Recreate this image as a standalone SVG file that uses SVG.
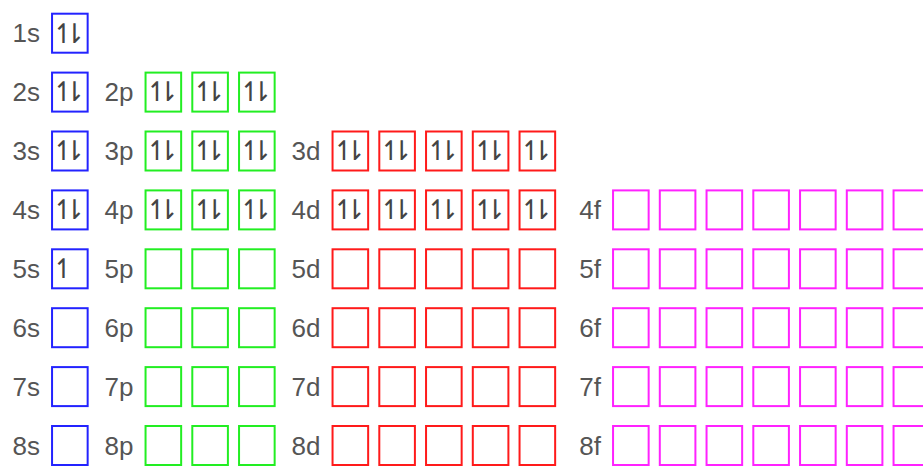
<svg xmlns="http://www.w3.org/2000/svg" width="923" height="470" viewBox="0 0 923 470">
<style>
rect.b{fill:none;stroke-width:2}
.s rect{stroke:#2323ff}
.p rect{stroke:#22ee22}
.d rect{stroke:#ff1a1a}
.f rect{stroke:#ff22ff}
text.l{font-family:"Liberation Sans",Arial,sans-serif;font-size:26px;fill:#555;text-anchor:end}
text.e{font-family:"DejaVu Sans",sans-serif;font-size:27px;fill:#444;text-anchor:middle}
</style>
<rect width="923" height="470" fill="#fff"/>
<!-- row 1 -->
<g id="o1s" class="s"><text class="l" x="40" y="42.3">1s</text><rect class="b" x="52.05" y="13.7" width="35.6" height="39"/><text class="e" x="63.5 74.5" y="42.5">↿⇂</text></g>
<!-- row 2 -->
<g id="o2s" class="s"><text class="l" x="40" y="101.2">2s</text><rect class="b" x="52.05" y="72.6" width="35.6" height="39"/><text class="e" x="63.5 74.5" y="101.4">↿⇂</text></g>
<g id="o2p" class="p"><text class="l" x="133.5" y="101.2">2p</text>
<rect class="b" x="145.55" y="72.6" width="35.6" height="39"/><rect class="b" x="192.3" y="72.6" width="35.6" height="39"/><rect class="b" x="239.05" y="72.6" width="35.6" height="39"/>
<text class="e" x="157 168" y="101.4">↿⇂</text><text class="e" x="203.75 214.75" y="101.4">↿⇂</text><text class="e" x="250.5 261.5" y="101.4">↿⇂</text></g>
<!-- row 3 -->
<g id="o3s" class="s"><text class="l" x="40" y="160.1">3s</text><rect class="b" x="52.05" y="131.5" width="35.6" height="39"/><text class="e" x="63.5 74.5" y="160.3">↿⇂</text></g>
<g id="o3p" class="p"><text class="l" x="133.5" y="160.1">3p</text>
<rect class="b" x="145.55" y="131.5" width="35.6" height="39"/><rect class="b" x="192.3" y="131.5" width="35.6" height="39"/><rect class="b" x="239.05" y="131.5" width="35.6" height="39"/>
<text class="e" x="157 168" y="160.3">↿⇂</text><text class="e" x="203.75 214.75" y="160.3">↿⇂</text><text class="e" x="250.5 261.5" y="160.3">↿⇂</text></g>
<g id="o3d" class="d"><text class="l" x="320.5" y="160.1">3d</text>
<rect class="b" x="332.55" y="131.5" width="35.6" height="39"/><rect class="b" x="379.3" y="131.5" width="35.6" height="39"/><rect class="b" x="426.05" y="131.5" width="35.6" height="39"/><rect class="b" x="472.8" y="131.5" width="35.6" height="39"/><rect class="b" x="519.55" y="131.5" width="35.6" height="39"/>
<text class="e" x="344 355" y="160.3">↿⇂</text><text class="e" x="390.75 401.75" y="160.3">↿⇂</text><text class="e" x="437.5 448.5" y="160.3">↿⇂</text><text class="e" x="484.25 495.25" y="160.3">↿⇂</text><text class="e" x="531 542" y="160.3">↿⇂</text></g>
<!-- row 4 -->
<g id="o4s" class="s"><text class="l" x="40" y="219">4s</text><rect class="b" x="52.05" y="190.4" width="35.6" height="39"/><text class="e" x="63.5 74.5" y="219.2">↿⇂</text></g>
<g id="o4p" class="p"><text class="l" x="133.5" y="219">4p</text>
<rect class="b" x="145.55" y="190.4" width="35.6" height="39"/><rect class="b" x="192.3" y="190.4" width="35.6" height="39"/><rect class="b" x="239.05" y="190.4" width="35.6" height="39"/>
<text class="e" x="157 168" y="219.2">↿⇂</text><text class="e" x="203.75 214.75" y="219.2">↿⇂</text><text class="e" x="250.5 261.5" y="219.2">↿⇂</text></g>
<g id="o4d" class="d"><text class="l" x="320.5" y="219">4d</text>
<rect class="b" x="332.55" y="190.4" width="35.6" height="39"/><rect class="b" x="379.3" y="190.4" width="35.6" height="39"/><rect class="b" x="426.05" y="190.4" width="35.6" height="39"/><rect class="b" x="472.8" y="190.4" width="35.6" height="39"/><rect class="b" x="519.55" y="190.4" width="35.6" height="39"/>
<text class="e" x="344 355" y="219.2">↿⇂</text><text class="e" x="390.75 401.75" y="219.2">↿⇂</text><text class="e" x="437.5 448.5" y="219.2">↿⇂</text><text class="e" x="484.25 495.25" y="219.2">↿⇂</text><text class="e" x="531 542" y="219.2">↿⇂</text></g>
<g id="o4f" class="f"><text class="l" x="601" y="219">4f</text>
<rect class="b" x="613.05" y="190.4" width="35.6" height="39"/><rect class="b" x="659.8" y="190.4" width="35.6" height="39"/><rect class="b" x="706.55" y="190.4" width="35.6" height="39"/><rect class="b" x="753.3" y="190.4" width="35.6" height="39"/><rect class="b" x="800.05" y="190.4" width="35.6" height="39"/><rect class="b" x="846.8" y="190.4" width="35.6" height="39"/><rect class="b" x="893.55" y="190.4" width="35.6" height="39"/></g>
<!-- row 5 -->
<g id="o5s" class="s"><text class="l" x="40" y="277.9">5s</text><rect class="b" x="52.05" y="249.3" width="35.6" height="39"/><text class="e" x="63.5" y="278.1">↿</text></g>
<g id="o5p" class="p"><text class="l" x="133.5" y="277.9">5p</text>
<rect class="b" x="145.55" y="249.3" width="35.6" height="39"/><rect class="b" x="192.3" y="249.3" width="35.6" height="39"/><rect class="b" x="239.05" y="249.3" width="35.6" height="39"/></g>
<g id="o5d" class="d"><text class="l" x="320.5" y="277.9">5d</text>
<rect class="b" x="332.55" y="249.3" width="35.6" height="39"/><rect class="b" x="379.3" y="249.3" width="35.6" height="39"/><rect class="b" x="426.05" y="249.3" width="35.6" height="39"/><rect class="b" x="472.8" y="249.3" width="35.6" height="39"/><rect class="b" x="519.55" y="249.3" width="35.6" height="39"/></g>
<g id="o5f" class="f"><text class="l" x="601" y="277.9">5f</text>
<rect class="b" x="613.05" y="249.3" width="35.6" height="39"/><rect class="b" x="659.8" y="249.3" width="35.6" height="39"/><rect class="b" x="706.55" y="249.3" width="35.6" height="39"/><rect class="b" x="753.3" y="249.3" width="35.6" height="39"/><rect class="b" x="800.05" y="249.3" width="35.6" height="39"/><rect class="b" x="846.8" y="249.3" width="35.6" height="39"/><rect class="b" x="893.55" y="249.3" width="35.6" height="39"/></g>
<!-- row 6 -->
<g id="o6s" class="s"><text class="l" x="40" y="336.8">6s</text><rect class="b" x="52.05" y="308.2" width="35.6" height="39"/></g>
<g id="o6p" class="p"><text class="l" x="133.5" y="336.8">6p</text>
<rect class="b" x="145.55" y="308.2" width="35.6" height="39"/><rect class="b" x="192.3" y="308.2" width="35.6" height="39"/><rect class="b" x="239.05" y="308.2" width="35.6" height="39"/></g>
<g id="o6d" class="d"><text class="l" x="320.5" y="336.8">6d</text>
<rect class="b" x="332.55" y="308.2" width="35.6" height="39"/><rect class="b" x="379.3" y="308.2" width="35.6" height="39"/><rect class="b" x="426.05" y="308.2" width="35.6" height="39"/><rect class="b" x="472.8" y="308.2" width="35.6" height="39"/><rect class="b" x="519.55" y="308.2" width="35.6" height="39"/></g>
<g id="o6f" class="f"><text class="l" x="601" y="336.8">6f</text>
<rect class="b" x="613.05" y="308.2" width="35.6" height="39"/><rect class="b" x="659.8" y="308.2" width="35.6" height="39"/><rect class="b" x="706.55" y="308.2" width="35.6" height="39"/><rect class="b" x="753.3" y="308.2" width="35.6" height="39"/><rect class="b" x="800.05" y="308.2" width="35.6" height="39"/><rect class="b" x="846.8" y="308.2" width="35.6" height="39"/><rect class="b" x="893.55" y="308.2" width="35.6" height="39"/></g>
<!-- row 7 -->
<g id="o7s" class="s"><text class="l" x="40" y="395.7">7s</text><rect class="b" x="52.05" y="367.1" width="35.6" height="39"/></g>
<g id="o7p" class="p"><text class="l" x="133.5" y="395.7">7p</text>
<rect class="b" x="145.55" y="367.1" width="35.6" height="39"/><rect class="b" x="192.3" y="367.1" width="35.6" height="39"/><rect class="b" x="239.05" y="367.1" width="35.6" height="39"/></g>
<g id="o7d" class="d"><text class="l" x="320.5" y="395.7">7d</text>
<rect class="b" x="332.55" y="367.1" width="35.6" height="39"/><rect class="b" x="379.3" y="367.1" width="35.6" height="39"/><rect class="b" x="426.05" y="367.1" width="35.6" height="39"/><rect class="b" x="472.8" y="367.1" width="35.6" height="39"/><rect class="b" x="519.55" y="367.1" width="35.6" height="39"/></g>
<g id="o7f" class="f"><text class="l" x="601" y="395.7">7f</text>
<rect class="b" x="613.05" y="367.1" width="35.6" height="39"/><rect class="b" x="659.8" y="367.1" width="35.6" height="39"/><rect class="b" x="706.55" y="367.1" width="35.6" height="39"/><rect class="b" x="753.3" y="367.1" width="35.6" height="39"/><rect class="b" x="800.05" y="367.1" width="35.6" height="39"/><rect class="b" x="846.8" y="367.1" width="35.6" height="39"/><rect class="b" x="893.55" y="367.1" width="35.6" height="39"/></g>
<!-- row 8 -->
<g id="o8s" class="s"><text class="l" x="40" y="454.6">8s</text><rect class="b" x="52.05" y="426" width="35.6" height="39"/></g>
<g id="o8p" class="p"><text class="l" x="133.5" y="454.6">8p</text>
<rect class="b" x="145.55" y="426" width="35.6" height="39"/><rect class="b" x="192.3" y="426" width="35.6" height="39"/><rect class="b" x="239.05" y="426" width="35.6" height="39"/></g>
<g id="o8d" class="d"><text class="l" x="320.5" y="454.6">8d</text>
<rect class="b" x="332.55" y="426" width="35.6" height="39"/><rect class="b" x="379.3" y="426" width="35.6" height="39"/><rect class="b" x="426.05" y="426" width="35.6" height="39"/><rect class="b" x="472.8" y="426" width="35.6" height="39"/><rect class="b" x="519.55" y="426" width="35.6" height="39"/></g>
<g id="o8f" class="f"><text class="l" x="601" y="454.6">8f</text>
<rect class="b" x="613.05" y="426" width="35.6" height="39"/><rect class="b" x="659.8" y="426" width="35.6" height="39"/><rect class="b" x="706.55" y="426" width="35.6" height="39"/><rect class="b" x="753.3" y="426" width="35.6" height="39"/><rect class="b" x="800.05" y="426" width="35.6" height="39"/><rect class="b" x="846.8" y="426" width="35.6" height="39"/><rect class="b" x="893.55" y="426" width="35.6" height="39"/></g>
</svg>
